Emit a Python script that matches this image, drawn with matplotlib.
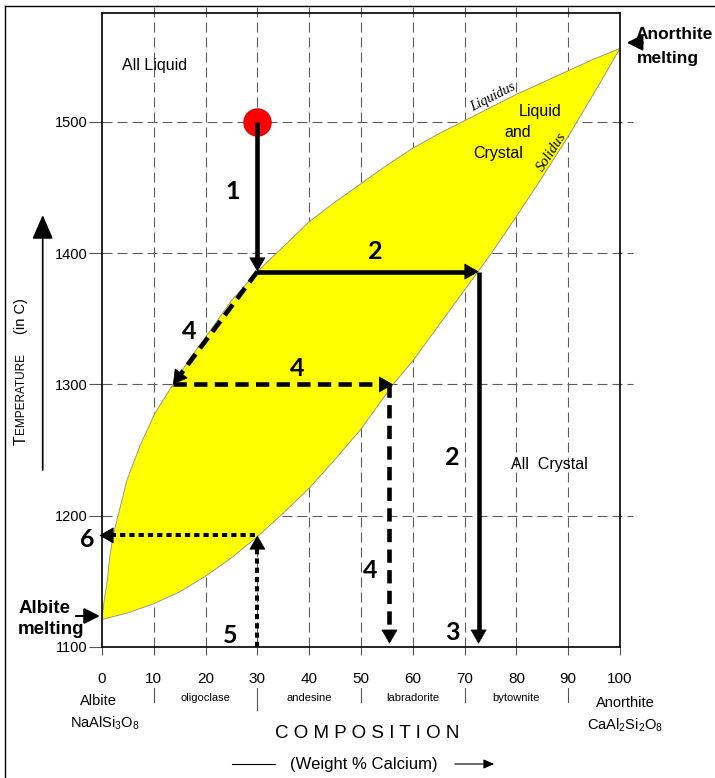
import matplotlib
matplotlib.use("Agg")
import matplotlib.pyplot as plt
from matplotlib.lines import Line2D
from matplotlib.patches import FancyArrowPatch
import numpy as np

W, H, DPI = 715, 778, 100
plt.rcParams['font.family'] = ['Liberation Sans', 'DejaVu Sans']
plt.rcParams['mathtext.fontset'] = 'custom'
plt.rcParams['mathtext.rm'] = 'Liberation Sans'
plt.rcParams['mathtext.it'] = 'Liberation Sans'

# Phase boundaries of the albite-anorthite plagioclase system (wt % Ca, deg C)
liquidus_x = [0, 0.4, 1.0, 1.5, 2.2, 3.1, 4.8, 7.3, 10.2, 13.7, 17, 20.9, 25, 30, 35, 40, 45,
              50, 55, 60, 65, 70, 75, 80, 85, 90, 95, 100]
liquidus_t = [1121, 1135, 1150, 1169, 1186, 1200, 1227, 1253, 1278, 1300, 1320, 1341, 1364,
              1386, 1405, 1424, 1439, 1453, 1467, 1480, 1491, 1501, 1511, 1521, 1530, 1539,
              1548, 1556]
solidus_x = [0, 5, 10, 15, 20, 25, 30, 35, 40, 45, 50, 56.2, 60, 65, 70, 75, 80, 85, 90, 95, 100]
solidus_t = [1121, 1126, 1133, 1142, 1154, 1168, 1184, 1202, 1221, 1243, 1266, 1300, 1318,
             1345, 1372, 1399, 1428, 1458, 1489, 1522, 1556]

# Composition axis
comp_ticks = [0, 10, 20, 30, 40, 50, 60, 70, 80, 90, 100]
temp_ticks = [1100, 1200, 1300, 1400, 1500]
minerals = ["oligoclase", "andesine", "labradorite", "bytownite"]
mineral_centers = [20, 40, 60, 80]
mineral_bounds = [10, 30, 50, 70, 90]

# Cooling path of a 30 % Ca melt
start_point = (30, 1500)
t_liquidus_hit = 1386
x_solid_first = 72.7
t_sub = 1300
x_liq_sub = 13.7
x_sol_sub = 56.2
x_drop_sub = 55.5
t_floor = 1102.5
t_sol_30 = 1185
x_liq_185 = -0.5

fig = plt.figure(figsize=(W / DPI, H / DPI), dpi=DPI)
ax = fig.add_axes([102 / W, 1 - 647 / H, 518 / W, 634 / H])
ax.set_xlim(0, 100)
ax.set_ylim(1100, 1583)

GRID = dict(color='#5c5c5c', lw=0.8, ls=(0, (9, 4.5)), zorder=1, clip_on=False)
for x in comp_ticks[1:-1]:
    ax.plot([x, x], [1100, 1588.4], **GRID)
for t in temp_ticks[1:]:
    ax.plot([0, 102.5], [t, t], **GRID)

# Two-phase field
poly_x = np.r_[liquidus_x, solidus_x[::-1]]
poly_t = np.r_[liquidus_t, solidus_t[::-1]]
ax.fill(poly_x, poly_t, color='#ffff00', zorder=2, lw=0)
ax.plot(liquidus_x, liquidus_t, color='#8a8a8a', lw=0.6, zorder=3)
ax.plot(solidus_x, solidus_t, color='#8a8a8a', lw=0.6, zorder=3)

for s in ax.spines.values():
    s.set_linewidth(1.2)
    s.set_zorder(4)

ax.set_xticks(comp_ticks)
ax.set_yticks(temp_ticks)
ax.tick_params(axis='y', length=9.5, width=0.8, color='#555555', pad=1, labelsize=10.5)
ax.tick_params(axis='x', length=6, width=0.8, color='#555555', pad=12, labelsize=11)


def arrow(x0, y0, x1, y1, ls='-', lw=3.3, back=6):
    p0 = ax.transData.transform((x0, y0))
    p1 = ax.transData.transform((x1, y1))
    d = p1 - p0
    u = d / np.hypot(*d)
    pe = ax.transData.inverted().transform(p1 - u * back)
    ax.plot([x0, pe[0]], [y0, pe[1]], color='k', lw=lw, ls=ls,
            solid_capstyle='butt', dash_capstyle='butt', zorder=7, clip_on=False)
    ax.annotate('', xy=(x1, y1), xytext=(-u[0] * 13, -u[1] * 13),
                textcoords='offset pixels',
                arrowprops=dict(arrowstyle='-|>,head_length=0.94,head_width=0.54',
                                mutation_scale=10, color='k', lw=0.5,
                                shrinkA=0, shrinkB=0), zorder=8, annotation_clip=False)


DASH = (0, (2.9, 1.6))
DOT = (0, (1.3, 1.0))

ax.plot(*start_point, 'o', ms=19.5, color='#ff0000', mec='#e00000', zorder=6)
arrow(start_point[0], start_point[1], start_point[0], t_liquidus_hit)
arrow(start_point[0], t_liquidus_hit, x_solid_first, t_liquidus_hit)
arrow(x_solid_first, t_liquidus_hit, x_solid_first, t_floor)
arrow(start_point[0], t_liquidus_hit, x_liq_sub, t_sub, ls=DASH)
arrow(x_liq_sub, t_sub, x_sol_sub, t_sub, ls=DASH)
arrow(x_drop_sub, t_sub, x_drop_sub, t_floor, ls=DASH)
arrow(start_point[0], 1100, start_point[0], t_sol_30, ls=DOT, lw=2.9)
arrow(start_point[0] - 0.5, t_sol_30, x_liq_185, t_sol_30, ls=DOT, lw=2.9)

# Step numbers
NUM = dict(family=['Lato', 'DejaVu Sans'], weight='bold', size=18, ha='center',
           va='center', zorder=9, clip_on=False)
for txt, x, t in [("1", 25.3, 1447), ("2", 52.7, 1401), ("4", 16.8, 1340), ("4", 37.6, 1312),
                  ("2", 67.6, 1244), ("4", 51.8, 1158), ("3", 67.6, 1111), ("5", 24.7, 1109),
                  ("6", -2.8, 1182)]:
    ax.text(x, t, txt, **NUM)

# Field labels
ax.text(10.2, 1543, "All Liquid", fontsize=11.5, ha='center', va='center')
ax.text(84.6, 1508, "Liquid", fontsize=11.5, ha='center', va='center', zorder=9)
ax.text(80.2, 1491.6, "and", fontsize=11.5, ha='center', va='center', zorder=9)
ax.text(76.4, 1475.6, "Crystal", fontsize=11.5, ha='center', va='center', zorder=9)
ax.text(86.3, 1239, "All  Crystal", fontsize=11.5, ha='center', va='center')
ax.text(75.5, 1519, "Liquidus", family=['Liberation Serif'], style='italic', fontsize=10,
        rotation=27, ha='center', va='center', zorder=9)
ax.text(86.9, 1477, "Solidus", family=['Liberation Serif'], style='italic', fontsize=10.5,
        rotation=57, ha='center', va='center', zorder=9)

# End-member melting points
BOLD = dict(weight='bold', fontsize=12.5, ha='left', va='center', clip_on=False, zorder=9)
ax.text(103.1, 1567, "Anorthite", **BOLD)
ax.text(103.3, 1548, "melting", **BOLD)
ax.annotate('', xy=(101.3, 1560.4), xytext=(16, 0), textcoords='offset pixels',
            arrowprops=dict(arrowstyle='-|>,head_length=1.2,head_width=0.6', mutation_scale=8,
                            color='k', lw=1.5, shrinkA=0, shrinkB=0), annotation_clip=False)
BOLD['fontsize'] = 13.5
ax.text(-16.2, 1129.3, "Albite", **BOLD)
ax.text(-16.2, 1113.3, "melting", **BOLD)
ax.annotate('', xy=(-0.4, 1123.6), xytext=(-24, 0), textcoords='offset pixels',
            arrowprops=dict(arrowstyle='-|>,head_length=1.2,head_width=0.6', mutation_scale=8,
                            color='k', lw=1.5, shrinkA=0, shrinkB=0), annotation_clip=False)

# Plagioclase names under the composition axis
for name, x in zip(minerals, mineral_centers):
    ax.text(x, 1061, name, fontsize=8, ha='center', va='center', clip_on=False)
for x in mineral_bounds:
    lo = 1052 if x == 30 else 1058
    ax.plot([x, x], [1069, lo], color='#555555', lw=0.8, clip_on=False)
ax.text(-0.7, 1058.5, "Albite", fontsize=10.5, ha='center', va='center', clip_on=False)
ax.text(0.6, 1042, r"NaAlSi$_3$O$_8$", fontsize=10.5, ha='center', va='center', clip_on=False)
ax.text(101, 1057.5, "Anorthite", fontsize=10.5, ha='center', va='center', clip_on=False)
ax.text(101, 1040.5, r"CaAl$_2$Si$_2$O$_8$", fontsize=10.5, ha='center', va='center',
        clip_on=False)

# Axis titles
fig.text(367 / W, 1 - 733 / H, "C O M P O S I T I O N", fontsize=13.5, ha='center', va='center')
fig.text(364 / W, 1 - 764 / H, "(Weight % Calcium)", fontsize=12, ha='center', va='center')
fig.add_artist(Line2D([232 / W, 275 / W], [1 - 764 / H] * 2, color='k', lw=0.8))
fig.add_artist(FancyArrowPatch((452 / W, 1 - 764 / H), (497 / W, 1 - 764 / H),
                               transform=fig.transFigure,
                               arrowstyle='-|>,head_length=0.8,head_width=0.35',
                               mutation_scale=8, color='k', lw=0.8))

fig.text(20.7 / W, 1 - 440 / H, "T", fontsize=11.5, rotation=90, ha='center', va='center')
fig.text(21.5 / W, 1 - 394 / H, "EMPERATURE", fontsize=8.5, rotation=90, ha='center', va='center')
fig.text(20.7 / W, 1 - 316 / H, "(in C)", fontsize=10.5, rotation=90, ha='center', va='center')
fig.add_artist(FancyArrowPatch((42.7 / W, 1 - 470 / H), (42.7 / W, 1 - 215 / H),
                               transform=fig.transFigure,
                               arrowstyle='-|>,head_length=1.5,head_width=0.65',
                               mutation_scale=10, color='k', lw=1.2, shrinkA=0, shrinkB=0))

# Page border
fig.add_artist(Line2D([5 / W, 5 / W], [0, 1 - 6 / H], color='k', lw=1.0))
fig.add_artist(Line2D([5 / W, 1], [1 - 6 / H] * 2, color='k', lw=1.0))

fig.savefig("out.png", dpi=DPI)
